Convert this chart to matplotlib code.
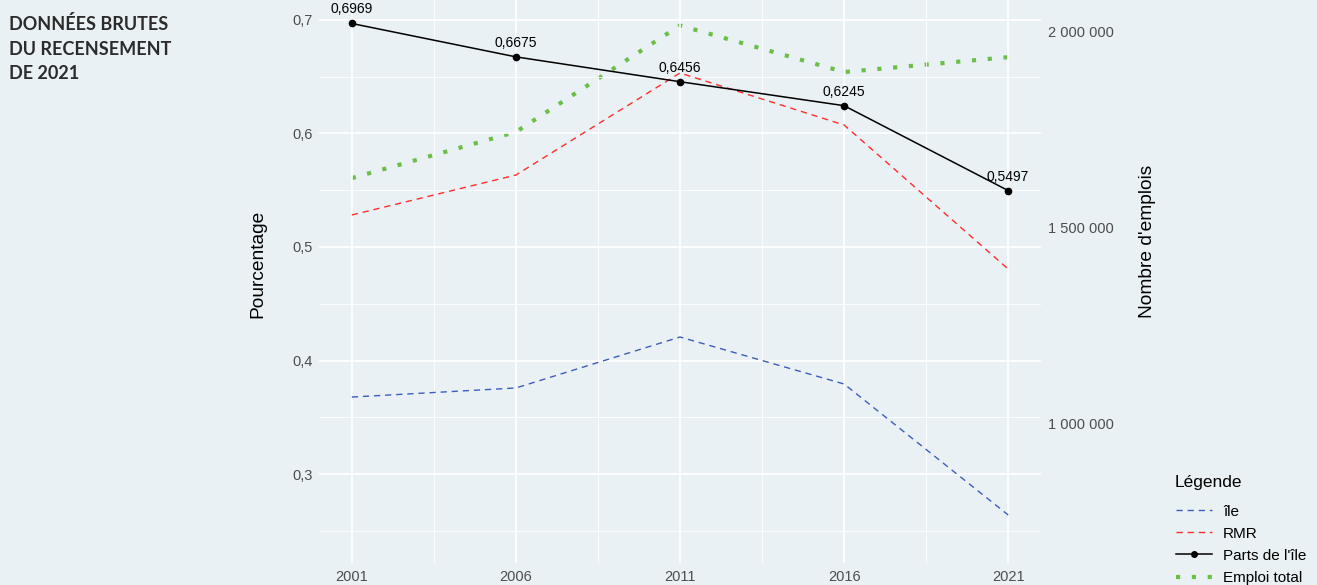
import matplotlib
matplotlib.use("Agg")
import matplotlib.pyplot as plt
from matplotlib.ticker import FuncFormatter, MultipleLocator, FixedLocator
from matplotlib.lines import Line2D

annees = [2001, 2006, 2011, 2016, 2021]
ile = [0.3678, 0.3758, 0.4207, 0.3793, 0.2639]
rmr = [0.5282, 0.5634, 0.6533, 0.6075, 0.4806]
parts = [0.6969, 0.6675, 0.6456, 0.6245, 0.5497]
emploi_total = [1626000, 1744000, 2016000, 1897000, 1935000]

facteur = 2.9e6  # axe secondaire = pourcentage * facteur
fond = "#e9f1f4"

plt.rcParams["font.family"] = ["Liberation Sans", "DejaVu Sans"]

fig = plt.figure(figsize=(13.17, 5.85), dpi=100, facecolor=fond)
ax = fig.add_axes([319 / 1317, 1 - 563 / 585, (1041 - 319) / 1317, 563 / 585])
ax2 = ax.twinx()

ylim = (0.2216, 0.7176)
ax.set_xlim(2000, 2022)
ax.set_ylim(*ylim)
ax2.set_ylim(ylim[0] * facteur, ylim[1] * facteur)

# grille façon ggplot
ax.xaxis.set_major_locator(FixedLocator(annees))
ax.xaxis.set_minor_locator(FixedLocator([2003.5, 2008.5, 2013.5, 2018.5]))
ax.yaxis.set_major_locator(MultipleLocator(0.1))
ax.yaxis.set_minor_locator(MultipleLocator(0.05))
ax.grid(which="major", color="white", lw=1.2)
ax.grid(which="minor", color="white", lw=0.6)
ax.set_axisbelow(True)
for a in (ax, ax2):
    for s in a.spines.values():
        s.set_visible(False)

ax.yaxis.set_major_formatter(FuncFormatter(lambda v, p: f"{v:.1f}".replace(".", ",")))
ax2.yaxis.set_major_locator(FixedLocator([1e6, 1.5e6, 2e6]))
ax2.yaxis.set_major_formatter(FuncFormatter(lambda v, p: f"{int(v):,}".replace(",", " ")))
ax.tick_params(axis="both", which="both", length=0, labelsize=10.5, labelcolor="#4d4d4d")
ax.tick_params(axis="y", pad=4.5)
ax.tick_params(axis="x", pad=5)
ax2.tick_params(axis="y", length=0, labelsize=10.5, labelcolor="#4d4d4d", pad=5)

l_ile, = ax.plot(annees, ile, color="#3d5cc0", lw=1.0, dashes=(4.5, 3.5))
l_rmr, = ax.plot(annees, rmr, color="#ff2d2d", lw=1.0, dashes=(4.5, 3.5))
l_emp, = ax2.plot(annees, emploi_total, color="#6bbf47", lw=3.0, dashes=(1, 2.8),
                  dash_capstyle="butt")
l_parts, = ax.plot(annees, parts, color="black", lw=1.1, marker="o", ms=4.5, zorder=5)

# axe principal au-dessus de l'axe secondaire, fond porté par ax2
ax.patch.set_visible(False)
ax2.patch.set_visible(True)
ax2.patch.set_facecolor(fond)
ax2.set_zorder(0)
ax.set_zorder(1)

for x, v in zip(annees, parts):
    ax.annotate(f"{v:.4f}".replace(".", ","), (x, v), xytext=(0, 7.2),
                textcoords="offset points", ha="center", va="baseline",
                fontsize=10, color="black", annotation_clip=False)

fig.text(258 / 1317, 1 - 318 / 585, "Pourcentage", rotation=90, ha="center",
         va="bottom", fontsize=13.8, color="black")
fig.text(1147 / 1317, 1 - 318 / 585, "Nombre d'emplois", rotation=90, ha="center",
         va="bottom", fontsize=13.8, color="black")

fig.text(9 / 1317, 1 - 15.5 / 585, "DONNÉES BRUTES\nDU RECENSEMENT\nDE 2021",
         ha="left", va="top", fontsize=13, fontweight="bold", family="Lato",
         color="#2b2b2b", linespacing=1.52)

fig.text(1175 / 1317, 1 - 483 / 585, "Légende", ha="left", va="center",
         fontsize=12.5, color="black")
handles = [
    Line2D([], [], color="#3d5cc0", lw=1.0, dashes=(4.5, 3.5)),
    Line2D([], [], color="#ff2d2d", lw=1.0, dashes=(4.5, 3.5)),
    Line2D([], [], color="black", lw=1.1, marker="o", ms=4),
    Line2D([], [], color="#6bbf47", lw=3.0, dashes=(1, 2.8), dash_capstyle="butt"),
]
leg = fig.legend(handles, ["île", "RMR", "Parts de l'île", "Emploi total"],
                 loc="upper left", bbox_to_anchor=(1168 / 1317, 1 - 497 / 585),
                 frameon=False, fontsize=11,
                 handlelength=2.35, handletextpad=0.75, labelspacing=0.53,
                 borderpad=0)

fig.savefig("out.png", dpi=100, facecolor=fond)
